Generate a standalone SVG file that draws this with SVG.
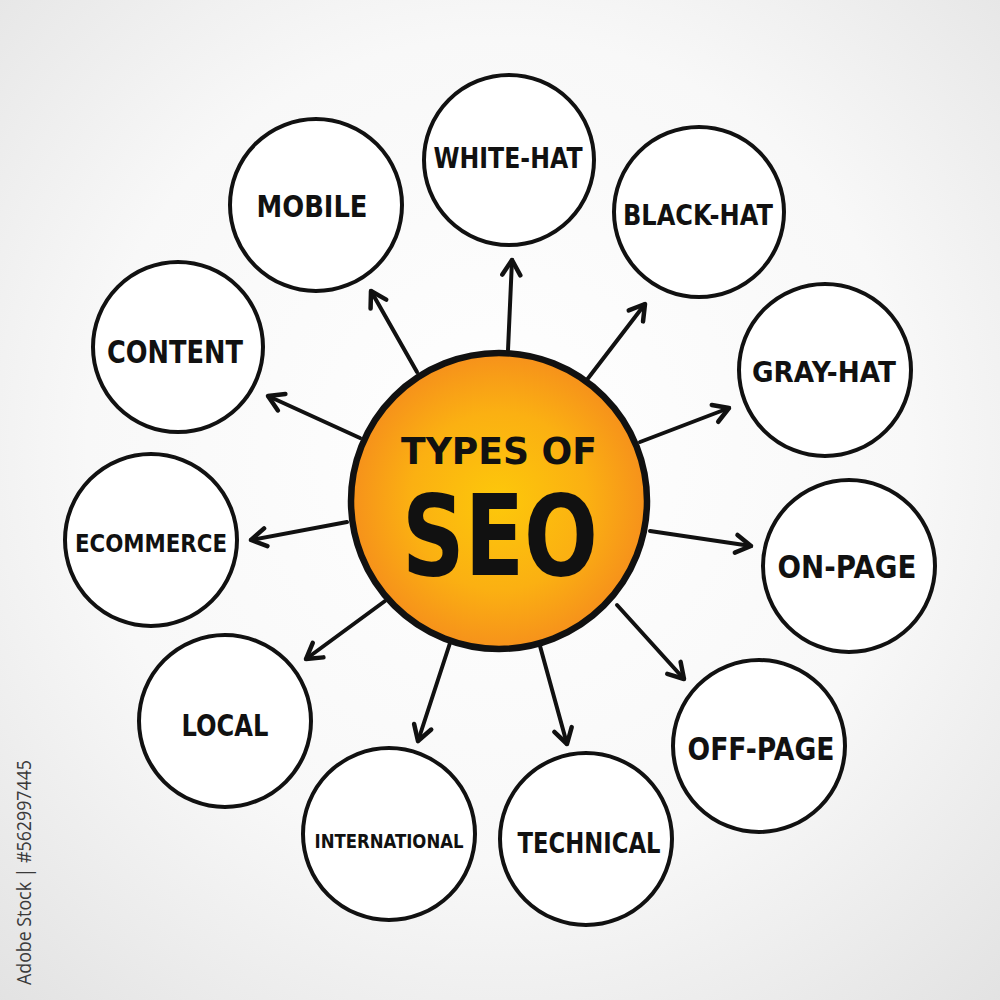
<svg xmlns="http://www.w3.org/2000/svg" width="1000" height="1000" viewBox="0 0 1000 1000">
<defs>
<radialGradient id="bg" cx="50%" cy="45%" r="75%">
<stop offset="0" stop-color="#ffffff"/>
<stop offset="0.55" stop-color="#f8f8f8"/>
<stop offset="1" stop-color="#e2e2e2"/>
</radialGradient>
<radialGradient id="sun" cx="50%" cy="50%" r="50%">
<stop offset="0" stop-color="#fdc80a"/>
<stop offset="0.6" stop-color="#fbb012"/>
<stop offset="1" stop-color="#f6911b"/>
</radialGradient>
<marker id="arr" markerUnits="userSpaceOnUse" markerWidth="40" markerHeight="40" viewBox="-20 -20 40 40" refX="0" refY="0" orient="auto">
<path d="M-15,-9 L0,0 L-15,9" fill="none" stroke="#111" stroke-width="4.5" stroke-linecap="round" stroke-linejoin="round"/>
</marker>
</defs>
<style>
.node{fill:#ffffff;stroke:#111;stroke-width:4}
.lbl{font-family:"DejaVu Sans","Liberation Sans",sans-serif;font-weight:bold;fill:#111;text-anchor:middle}
.con line{stroke:#111;stroke-width:4;stroke-linecap:round;marker-end:url(#arr)}
</style>
<rect width="1000" height="1000" fill="url(#bg)"/>
<g class="con" id="connectors">
<line x1="508" y1="350" x2="512" y2="260"/>
<line x1="586" y1="381" x2="645" y2="304"/>
<line x1="640" y1="442" x2="729" y2="408"/>
<line x1="650" y1="531" x2="751" y2="546"/>
<line x1="617" y1="605" x2="684" y2="679"/>
<line x1="540" y1="646" x2="567" y2="744"/>
<line x1="450" y1="643" x2="418" y2="741"/>
<line x1="385" y1="601" x2="306" y2="659"/>
<line x1="347" y1="522" x2="251" y2="540"/>
<line x1="360" y1="438" x2="268" y2="396"/>
<line x1="417" y1="372" x2="371" y2="291"/>
</g>
<g id="center">
<circle cx="499" cy="501" r="148" fill="url(#sun)" stroke="#111" stroke-width="6.5"/>
<text class="lbl" x="499" y="464" font-size="37" textLength="196" lengthAdjust="spacingAndGlyphs">TYPES OF</text>
<text class="lbl" x="500" y="575" font-size="112" textLength="196" lengthAdjust="spacingAndGlyphs">SEO</text>
</g>
<g id="white-hat"><circle class="node" cx="509" cy="160" r="85"/><text class="lbl" x="508" y="168" font-size="29" textLength="149" lengthAdjust="spacingAndGlyphs">WHITE-HAT</text></g>
<g id="black-hat"><circle class="node" cx="699" cy="212" r="85"/><text class="lbl" x="698" y="225" font-size="29" textLength="150" lengthAdjust="spacingAndGlyphs">BLACK-HAT</text></g>
<g id="gray-hat"><circle class="node" cx="825" cy="370" r="86"/><text class="lbl" x="824" y="382" font-size="29" textLength="144" lengthAdjust="spacingAndGlyphs">GRAY-HAT</text></g>
<g id="on-page"><circle class="node" cx="849" cy="566" r="86"/><text class="lbl" x="847" y="578" font-size="32" textLength="139" lengthAdjust="spacingAndGlyphs">ON-PAGE</text></g>
<g id="off-page"><circle class="node" cx="759" cy="746" r="86"/><text class="lbl" x="761" y="760" font-size="32" textLength="147" lengthAdjust="spacingAndGlyphs">OFF-PAGE</text></g>
<g id="technical"><circle class="node" cx="586" cy="839" r="86"/><text class="lbl" x="589" y="853" font-size="28" textLength="143" lengthAdjust="spacingAndGlyphs">TECHNICAL</text></g>
<g id="international"><circle class="node" cx="389" cy="834" r="86"/><text class="lbl" x="389" y="848" font-size="20" textLength="149" lengthAdjust="spacingAndGlyphs">INTERNATIONAL</text></g>
<g id="local"><circle class="node" cx="225" cy="721" r="86"/><text class="lbl" x="225" y="736" font-size="31" textLength="87" lengthAdjust="spacingAndGlyphs">LOCAL</text></g>
<g id="ecommerce"><circle class="node" cx="151" cy="540" r="86"/><text class="lbl" x="151" y="552" font-size="25" textLength="152" lengthAdjust="spacingAndGlyphs">ECOMMERCE</text></g>
<g id="content"><circle class="node" cx="178" cy="347" r="85"/><text class="lbl" x="175" y="363" font-size="32" textLength="136" lengthAdjust="spacingAndGlyphs">CONTENT</text></g>
<g id="mobile"><circle class="node" cx="316" cy="205" r="86"/><text class="lbl" x="312" y="217" font-size="31" textLength="111" lengthAdjust="spacingAndGlyphs">MOBILE</text></g>
<text x="31" y="985" transform="rotate(-90 31 985)" font-family="'Open Sans','DejaVu Sans',sans-serif" font-size="20" fill="#3a3a3a" textLength="225" lengthAdjust="spacingAndGlyphs">Adobe Stock | #562997445</text>
</svg>
